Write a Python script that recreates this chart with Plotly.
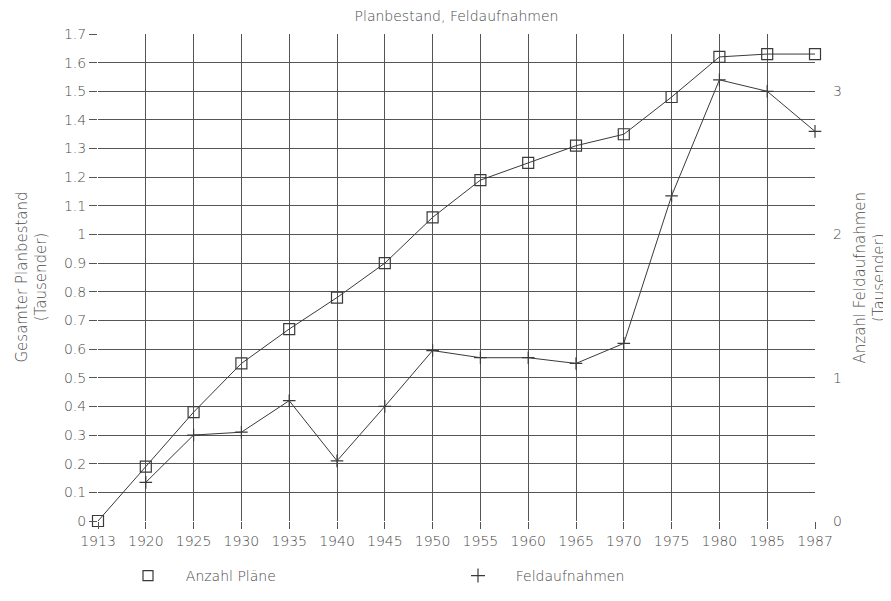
import plotly.graph_objects as go

years = ["1913", "1920", "1925", "1930", "1935", "1940", "1945", "1950",
         "1955", "1960", "1965", "1970", "1975", "1980", "1985", "1987"]
plaene = [0.0, 0.19, 0.38, 0.55, 0.67, 0.78, 0.90, 1.06,
          1.19, 1.25, 1.31, 1.35, 1.48, 1.62, 1.63, 1.63]
feld_years = years[1:]
feld = [0.27, 0.60, 0.62, 0.84, 0.42, 0.80, 1.19,
        1.14, 1.14, 1.10, 1.24, 2.27, 3.08, 3.00, 2.72]
left_ticks = [round(i * 0.1, 1) for i in range(18)]
left_labels = [f"{v:g}" for v in left_ticks]
right_ticks = [0, 1, 2, 3]

ink = "#3a3a3a"
txt = "#4a4a4a"
fam = "DejaVu Sans"
font = dict(family=fam, size=14, color=txt, weight=200)

# the page body adds an 8px offset; layout numbers below are in figure pixels
W, H = 891, 601
L, T = 90, 26
R = W - 807
B = H - 513

fig = go.Figure()
fig.add_trace(go.Scatter(
    x=years, y=plaene, mode="lines+markers", showlegend=False, cliponaxis=False,
    line=dict(color=ink, width=1),
    marker=dict(symbol="square-open", size=11, color=ink, line=dict(width=1.2)),
    yaxis="y"))
fig.add_trace(go.Scatter(
    x=feld_years, y=feld, mode="lines+markers", showlegend=False, cliponaxis=False,
    line=dict(color=ink, width=1),
    marker=dict(symbol="cross-thin-open", size=9, color=ink, line=dict(width=1.2, color=ink)),
    yaxis="y2"))
# legend entries (symbols only)
nb = "\u00a0" * 4
fig.add_trace(go.Scatter(
    x=[None], y=[None], mode="markers", name=nb + "Anzahl Pläne",
    marker=dict(symbol="square-open", size=10, color=ink, line=dict(width=1.2))))
fig.add_trace(go.Scatter(
    x=[None], y=[None], mode="markers", name=nb + "Feldaufnahmen",
    marker=dict(symbol="cross-thin-open", size=10, color=ink, line=dict(width=1.2, color=ink))))

pw = W - L - R
fig.update_layout(
    width=W, height=H,
    margin=dict(l=L, r=R, t=T, b=B),
    paper_bgcolor="white", plot_bgcolor="white",
    font=font,
    title=dict(text="Planbestand, Feldaufnahmen", x=(L + pw / 2) / W, xanchor="center",
               y=1 - 3 / H, yanchor="top", pad=dict(t=0, b=0),
               font=dict(size=14, color=txt, weight=200)),
    xaxis=dict(type="category", categoryorder="array", categoryarray=years,
               range=[0, len(years) - 1], showgrid=True, gridcolor="#555", gridwidth=1,
               ticks="outside", ticklen=7, tickcolor="#555", showline=False,
               zeroline=False, automargin=False),
    yaxis=dict(range=[0, 1.7], tickvals=left_ticks, ticktext=left_labels,
               showgrid=True, gridcolor="#555", gridwidth=1, ticks="outside",
               ticklen=8, tickcolor="#555", zeroline=False, showline=False,
               automargin=False),
    yaxis2=dict(range=[0, 3.4], tickvals=right_ticks, overlaying="y", side="right",
                showgrid=False, zeroline=False, showline=False, ticks="",
                ticklabelstandoff=17, automargin=False),
    legend=dict(orientation="h", x=(120 - L) / pw, xanchor="left",
                yref="container", y=1 - 552 / H, yanchor="top",
                entrywidth=285, entrywidthmode="pixels",
                font=dict(size=14, color=txt, weight=200)),
    annotations=[
        dict(text="Gesamter Planbestand<br>(Tausender)", textangle=-90,
             xref="paper", yref="paper", x=0, y=0.5, xanchor="center", yanchor="middle",
             xshift=-(98 - 31), showarrow=False, font=dict(size=15, color=txt, weight=200)),
        dict(text="Anzahl Feldaufnahmen<br>(Tausender)", textangle=-90,
             xref="paper", yref="paper", x=1, y=0.5, xanchor="center", yanchor="middle",
             xshift=(869 - 815), showarrow=False, font=dict(size=15, color=txt, weight=200)),
    ],
)

fig.write_html("out.html")
